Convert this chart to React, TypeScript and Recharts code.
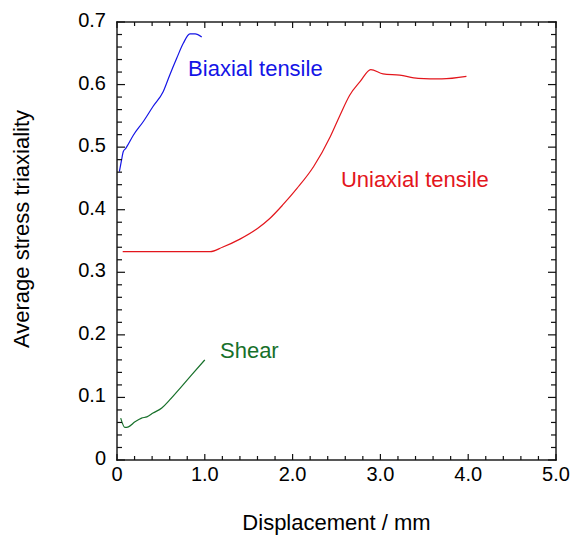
import React from 'react'
import { LineChart, Line, XAxis, YAxis, ReferenceDot } from 'recharts'

// values (displacement in mm, triaxiality)
const biaxialX = [0.027, 0.05, 0.072, 0.1, 0.117, 0.186, 0.3, 0.41, 0.527, 0.6, 0.68, 0.755, 0.83, 0.89, 0.965]
const biaxialY = [0.461, 0.478, 0.493, 0.498, 0.502, 0.519, 0.541, 0.565, 0.589, 0.615, 0.642, 0.666, 0.681, 0.681, 0.676]

const uniaxialX = [0.065, 0.5, 1.06, 1.2, 1.4, 1.6, 1.74, 1.89, 2.05, 2.24, 2.43, 2.54, 2.65, 2.77, 2.89, 3.03, 3.22, 3.43, 3.7, 3.98]
const uniaxialY = [0.333, 0.333, 0.333, 0.34, 0.353, 0.37, 0.386, 0.408, 0.434, 0.469, 0.517, 0.551, 0.583, 0.605, 0.624, 0.617, 0.615, 0.61, 0.609, 0.613]

const shearX = [0.042, 0.091, 0.13, 0.205, 0.28, 0.34, 0.41, 0.51, 0.6, 0.72, 0.85, 1.0]
const shearY = [0.067, 0.052, 0.053, 0.061, 0.067, 0.069, 0.075, 0.083, 0.096, 0.115, 0.136, 0.16]

const xTickLabels = ['0', '1.0', '2.0', '3.0', '4.0', '5.0']
const yTickLabels = ['0', '0.1', '0.2', '0.3', '0.4', '0.5', '0.6', '0.7']

const seriesNames = ['Biaxial tensile', 'Uniaxial tensile', 'Shear']
const seriesColors = ['#1414e6', '#e3161c', '#17702a']
// where each name sits, in data units (left end of baseline)
const nameX = [0.81, 2.55, 1.173]
const nameY = [0.614, 0.437, 0.163]

const toPoints = (xs: number[], ys: number[]) => xs.map((x, i) => ({ x, y: ys[i] }))
const biaxial = toPoints(biaxialX, biaxialY)
const uniaxial = toPoints(uniaxialX, uniaxialY)
const shear = toPoints(shearX, shearY)

const W = 570
const H = 535
const LEFT = 117
const TOP = 22
const RIGHT = 556
const BOTTOM = 460
const FONT = '"Liberation Sans", Arial, sans-serif'
const INK = '#111'

// minor ticks every 0.2 on x and 0.02 on y
const xTicks = Array.from({ length: 26 }, (_, i) => +(i * 0.2).toFixed(2))
const yTicks = Array.from({ length: 36 }, (_, i) => +(i * 0.02).toFixed(2))

const isMajorX = (v: number) => Math.abs(v - Math.round(v)) < 1e-6
const isMajorY = (v: number) => Math.abs(v * 10 - Math.round(v * 10)) < 1e-6

// x ticks, bottom and top, inward
const XTick = (props: any) => {
	const { x, payload } = props
	const major = isMajorX(payload.value)
	const len = major ? 6 : 4
	return (
		<g>
			<rect x={x - 0.6} y={BOTTOM - len} width={1.2} height={len} fill={INK} />
			<rect x={x - 0.6} y={TOP} width={1.2} height={len} fill={INK} />
			{major && (
				<text x={x} y={481} textAnchor="middle" fontSize={20} fontFamily={FONT} fill="#000">
					{xTickLabels[Math.round(payload.value)]}
				</text>
			)}
		</g>
	)
}

// y ticks, left and right, inward
const YTick = (props: any) => {
	const { y, payload } = props
	const major = isMajorY(payload.value)
	const len = major ? 8 : 5
	return (
		<g>
			<rect x={LEFT} y={y - 0.6} width={len} height={1.2} fill={INK} />
			<rect x={RIGHT - len} y={y - 0.6} width={len} height={1.2} fill={INK} />
			{major && (
				<text x={106} y={y} dy={5} textAnchor="end" fontSize={20} fontFamily={FONT} fill="#000">
					{yTickLabels[Math.round(payload.value * 10)]}
				</text>
			)}
		</g>
	)
}

const Frame = () => (
	<g>
		<rect x={LEFT - 0.7} y={TOP - 0.7} width={RIGHT - LEFT + 1.4} height={1.4} fill={INK} />
		<rect x={LEFT - 0.7} y={BOTTOM - 0.7} width={RIGHT - LEFT + 1.4} height={1.4} fill={INK} />
		<rect x={LEFT - 0.7} y={TOP - 0.7} width={1.4} height={BOTTOM - TOP + 1.4} fill={INK} />
		<rect x={RIGHT - 0.7} y={TOP - 0.7} width={1.4} height={BOTTOM - TOP + 1.4} fill={INK} />
	</g>
)

const nameLabel = (i: number) => (p: any) => (
	<text x={p.viewBox.x} y={p.viewBox.y} fontSize={22} fontFamily={FONT} fill={seriesColors[i]}>
		{seriesNames[i]}
	</text>
)

export default function App() {
	return (
		<div style={{ position: 'absolute', left: 0, top: 0, background: '#fff' }}>
			<LineChart width={W} height={H} margin={{ top: TOP, right: W - RIGHT, bottom: 0, left: 0 }}>
				<XAxis
					dataKey="x"
					type="number"
					domain={[0, 5]}
					ticks={xTicks}
					interval={0}
					height={H - BOTTOM}
					tickLine={false}
					axisLine={false}
					tick={<XTick />}
					label={() => (
						<g>
							<Frame />
							<text x={LEFT + (RIGHT - LEFT) / 2} y={530} textAnchor="middle" fontSize={22} fontFamily={FONT} fill="#000">
								Displacement / mm
							</text>
						</g>
					)}
				/>
				<YAxis
					type="number"
					domain={[0, 0.7]}
					ticks={yTicks}
					interval={0}
					width={LEFT}
					tickLine={false}
					axisLine={false}
					tick={<YTick />}
					label={() => (
						<text
							x={29}
							y={229}
							transform="rotate(-90 29 229)"
							textAnchor="middle"
							fontSize={22}
							fontFamily={FONT}
							fill="#000"
						>
							Average stress triaxiality
						</text>
					)}
				/>
				<Line data={biaxial} dataKey="y" type="monotone" stroke={seriesColors[0]} strokeWidth={1.2} dot={false} isAnimationActive={false} />
				<Line data={uniaxial} dataKey="y" type="monotone" stroke={seriesColors[1]} strokeWidth={1.2} dot={false} isAnimationActive={false} />
				<Line data={shear} dataKey="y" type="monotone" stroke={seriesColors[2]} strokeWidth={1.2} dot={false} isAnimationActive={false} />
				{seriesNames.map((n, i) => (
					<ReferenceDot key={n} x={nameX[i]} y={nameY[i]} r={0} fill="none" stroke="none" label={nameLabel(i)} />
				))}
			</LineChart>
		</div>
	)
}
